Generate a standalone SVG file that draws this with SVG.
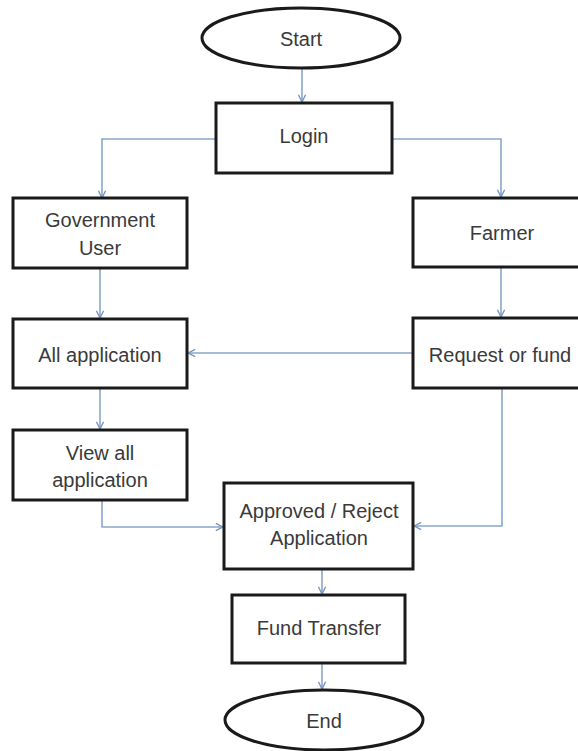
<svg xmlns="http://www.w3.org/2000/svg" width="578" height="751" viewBox="0 0 578 751">
<style>
.box{fill:#fff;stroke:#1a1a1a;stroke-width:3}
.lbl{font-family:"Liberation Sans",Arial,sans-serif;font-size:20px;fill:#3a3a3a;text-anchor:middle}
.con{fill:none;stroke:#8aa6cc;stroke-width:1.6;marker-end:url(#ah)}
</style>
<defs>
<marker id="ah" viewBox="0 0 10 10" refX="9" refY="5" markerWidth="9" markerHeight="9" markerUnits="userSpaceOnUse" orient="auto">
<path d="M1,1 L9,5 L1,9" fill="none" stroke="#7b98c2" stroke-width="1.6"/>
</marker>
</defs>
<rect width="578" height="751" fill="#fff"/>
<g id="connectors">
<path class="con" d="M302,69 V102"/>
<path class="con" d="M216,139 H102 V198"/>
<path class="con" d="M392,139 H501 V197"/>
<path class="con" d="M100,268 V318"/>
<path class="con" d="M501,267 V317"/>
<path class="con" d="M413,353 H188"/>
<path class="con" d="M100,389 V429"/>
<path class="con" d="M102,500 V527 H223"/>
<path class="con" d="M502,389 V526 H414"/>
<path class="con" d="M322,569 V594"/>
<path class="con" d="M322,664 V689"/>
</g>
<g id="start"><ellipse class="box" cx="301" cy="38" rx="99" ry="30"/><text class="lbl" x="301" y="46">Start</text></g>
<g id="login"><rect class="box" x="216" y="103" width="176" height="70"/><text class="lbl" x="304" y="143">Login</text></g>
<g id="gov"><rect class="box" x="13" y="198" width="174" height="70"/><text class="lbl" x="100" y="227">Government</text><text class="lbl" x="100" y="255">User</text></g>
<g id="farmer"><rect class="box" x="413" y="198" width="180" height="69"/><text class="lbl" x="502" y="240">Farmer</text></g>
<g id="allapp"><rect class="box" x="13" y="319" width="174" height="69"/><text class="lbl" x="100" y="362">All application</text></g>
<g id="request"><rect class="box" x="413" y="318" width="180" height="70"/><text class="lbl" x="500" y="362">Request or fund</text></g>
<g id="viewall"><rect class="box" x="13" y="430" width="174" height="70"/><text class="lbl" x="100" y="460">View all</text><text class="lbl" x="100" y="487">application</text></g>
<g id="approve"><rect class="box" x="224" y="483" width="189" height="86"/><text class="lbl" x="319" y="518">Approved / Reject</text><text class="lbl" x="319" y="545">Application</text></g>
<g id="fund"><rect class="box" x="232" y="595" width="173" height="68"/><text class="lbl" x="319" y="635">Fund Transfer</text></g>
<g id="end"><ellipse class="box" cx="324" cy="720" rx="99" ry="30"/><text class="lbl" x="324" y="728">End</text></g>
</svg>
